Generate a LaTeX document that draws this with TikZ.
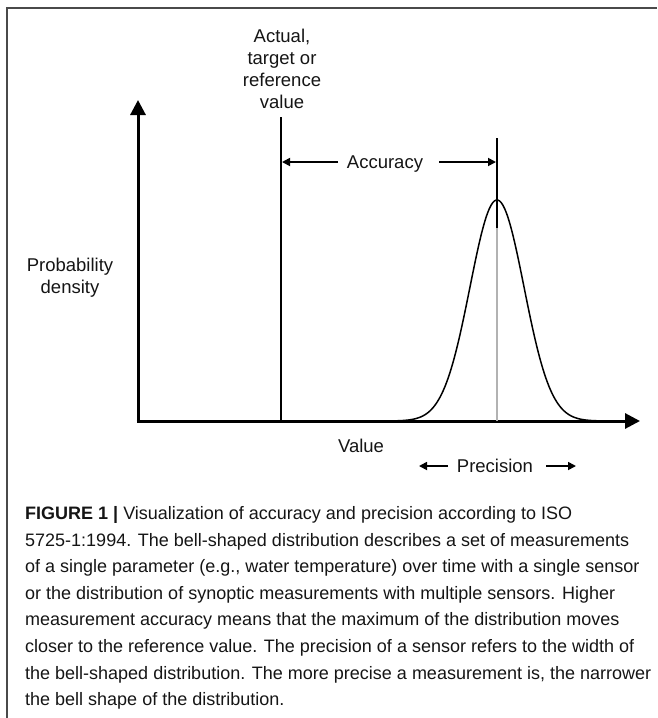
\documentclass[tikz,border=0pt]{standalone}
\usepackage{fontspec}
\setmainfont{Liberation Sans}
\usetikzlibrary{arrows.meta}
\definecolor{ink}{HTML}{151515}
\definecolor{framec}{HTML}{4A4A4A}
\tikzset{
  lbl/.style={anchor=base, inner sep=0pt, text=ink, font=\fontsize{18.5}{22}\selectfont},
  captext/.style={anchor=base west, inner sep=0pt, text=ink, font=\fontsize{18}{26}\selectfont},
  axisline/.style={line width=3pt, -{Triangle[length=15pt,width=15pt]}},
  dimarrow/.style={line width=1.7pt, -{Triangle[length=8pt,width=8pt]}},
  vline/.style={line width=2pt, black},
}
\begin{document}
\begin{tikzpicture}[x=1pt,y=-1pt]
\useasboundingbox (0,0) rectangle (657,718);
% frame (top and left edges visible)
\coordinate (fbl) at (7,718);
\coordinate (ftl) at (7,8);
\coordinate (ftr) at (657,8);
\draw[framec, line width=1.6pt] (fbl) -- (ftl) -- (ftr);
% axes
\coordinate (O) at (138,421);
\coordinate (ytip) at (138,100);
\coordinate (xtip) at (640,421);
\draw[axisline] ([yshift=1.5pt]O) -- (ytip);
\draw[axisline] ([xshift=-1.5pt]O) -- (xtip);
% reference line
\coordinate (reftop) at (281,117);
\coordinate (refbot) at (281,421);
\draw[vline, line width=1.8pt] (reftop) -- (refbot);
% distribution centre line
\coordinate (cntop) at (497,138);
\coordinate (cnmid) at (497,228);
\coordinate (cnbot) at (497,421);
\draw[line width=1.5pt, gray!60] (cnmid) -- (cnbot);
\draw[vline, line width=2.4pt] (cntop) -- (cnmid);
% bell curve
\draw[black, line width=1.5pt] plot[domain=-4.4:4.4, samples=140, smooth]
  ({497+27*\x},{421-221*exp(-\x*\x/2)});
% title of reference line
\node[lbl] (t1) at (282,42.5) {Actual,};
\node[lbl] (t2) at (282,64.5) {target or};
\node[lbl] (t3) at (282,86.5) {reference};
\node[lbl] (t4) at (282,108) {value};
% y label
\node[lbl] (p1) at (70,271.5) {Probability};
\node[lbl] (p2) at (70,293.5) {density};
% accuracy
\node[lbl] (acc) at (385,168.5) {Accuracy};
\coordinate (accLt) at (338,162);
\coordinate (accL) at (282,162);
\coordinate (accRt) at (439,162);
\coordinate (accR) at (496,162);
\draw[dimarrow] (accLt) -- (accL);
\draw[dimarrow] (accRt) -- (accR);
% x label
\node[lbl] (val) at (361,452.5) {Value};
% precision
\node[lbl] (prec) at (495,472.5) {Precision};
\coordinate (prLt) at (448,466);
\coordinate (prL) at (419,466);
\coordinate (prRt) at (546,466);
\coordinate (prR) at (576,466);
\draw[dimarrow] (prLt) -- (prL);
\draw[dimarrow] (prRt) -- (prR);
% caption
\node[captext] (c1) at (25,519.5) {\textbf{FIGURE 1 |} Visualization of accuracy and precision according to ISO};
\node[captext] (c2) at (25,546.1) {5725-1:1994. The bell-shaped distribution describes a set of measurements};
\node[captext] (c3) at (25,572.7) {of a single parameter (e.g., water temperature) over time with a single sensor};
\node[captext] (c4) at (25,599.3) {or the distribution of synoptic measurements with multiple sensors. Higher};
\node[captext] (c5) at (25,625.9) {measurement accuracy means that the maximum of the distribution moves};
\node[captext] (c6) at (25,652.5) {closer to the reference value. The precision of a sensor refers to the width of};
\node[captext] (c7) at (25,679.1) {the bell-shaped distribution. The more precise a measurement is, the narrower};
\node[captext] (c8) at (25,705.7) {the bell shape of the distribution.};
\end{tikzpicture}
\end{document}
